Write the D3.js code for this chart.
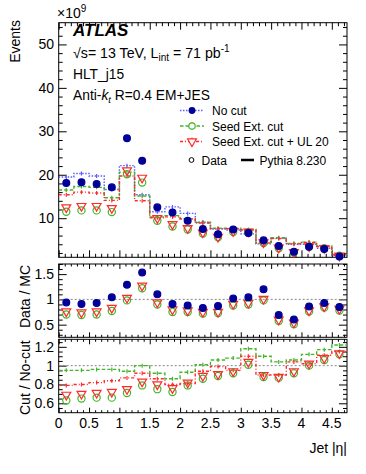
<!DOCTYPE html>
<html><head><meta charset="utf-8">
<script src="https://cdn.jsdelivr.net/npm/d3@7"></script>
<style>
body{margin:0;background:#fff}
svg{display:block}
text{font-family:"Liberation Sans",Arial,Helvetica,sans-serif;fill:#000}
</style>
</head><body>
<svg id="c" width="366" height="474"></svg>
<script>
// ---------- data ----------
const binEdges = [0,0.25,0.5,0.75,1,1.25,1.5,1.75,2,2.25,2.5,2.75,3,3.25,3.5,3.75,4,4.25,4.5,4.75];
// top panel (x10^9 events)
const mcNoCut   = [19.5,20.3,19.7,16.6,22.1,15.4,11.5,12.6,11.1,9.1,7.5,7.3,6.4,4.1,5.4,4.0,4.0,3.1,1.4];
const mcSeed    = [16.5,17.3,17.1,14.7,20.6,15.1,10.3,10.6,9.9,9.0,7.7,7.7,7.4,4.4,5.5,4.2,4.5,3.6,1.7];
const mcUL      = [15.4,16.0,15.8,14.1,19.7,14.0,10.1,10.3,9.8,8.9,7.6,7.6,7.3,4.3,5.3,4.1,4.4,3.5,1.65];
const dataNoCut = [18.1,18.3,17.9,17.1,28.4,23.2,12.5,11.3,9.4,7.5,6.3,7.4,6.6,4.9,3.6,2.3,3.4,2.9,1.2];
const dataSeed  = [11.5,11.8,11.8,11.4,20.1,18.2,9.4,8.1,7.4,6.5,5.6,6.8,6.7,4.3,3.1,2.1,3.4,3.1,1.35];
const dataUL    = [12.5,12.8,12.8,12.3,21.0,19.3,10.0,8.6,7.7,6.7,5.7,7.0,6.9,4.4,3.2,2.2,3.5,3.1,1.37];
// Data / MC
const rNoCut = [0.94,0.91,0.93,1.04,1.29,1.53,1.10,0.91,0.88,0.83,0.87,1.02,1.04,1.20,0.69,0.60,0.86,0.93,0.85];
const rSeed  = [0.70,0.69,0.70,0.77,0.98,1.22,0.90,0.75,0.75,0.72,0.73,0.88,0.90,0.98,0.57,0.51,0.76,0.84,0.78];
const rUL    = [0.76,0.74,0.76,0.83,1.03,1.27,0.94,0.80,0.78,0.75,0.75,0.91,0.93,1.01,0.60,0.54,0.78,0.86,0.81];
// Cut / No-cut
const cutMcSeed   = [0.95,0.95,0.96,0.96,0.94,1.00,0.92,0.86,0.93,1.01,1.06,1.08,1.18,1.10,1.04,1.06,1.12,1.17,1.22];
const cutMcUL     = [0.79,0.80,0.82,0.84,0.87,0.92,0.86,0.80,0.81,0.94,0.99,0.95,1.10,0.90,0.90,1.04,1.02,1.11,1.15];
const cutDataSeed = [0.63,0.65,0.66,0.66,0.71,0.79,0.75,0.72,0.79,0.86,0.89,0.92,1.01,0.88,0.87,0.92,1.00,1.06,1.12];
const cutDataUL   = [0.69,0.70,0.71,0.72,0.75,0.83,0.80,0.76,0.82,0.89,0.91,0.94,1.04,0.90,0.88,0.94,1.02,1.08,1.13];
// ticks
const xTickLabels = ["0","0.5","1","1.5","2","2.5","3","3.5","4","4.5"];
const yTopTicks = [10,20,30,40,50];
const yR1Ticks = [0.5,1,1.5];
const yR2Ticks = [0.6,0.8,1,1.2];
const legendLabels = ["No cut","Seed Ext. cut","Seed Ext. cut + UL 20"];

// ---------- style ----------
const C = {blueP:"#000099", blueL:"#5b5bff", green:"#44b52a", red:"#ff2a2a"};
const svg = d3.select("#c");
const X0 = 58.7, X1 = 347;
const x = d3.scaleLinear([0,4.75],[X0,X1]);
const P = {
  top:{y0:22.7,y1:257.3}, r1:{y0:264,y1:337.3}, r2:{y0:339.3,y1:412.7}
};
const yTop = d3.scaleLinear([1,55],[P.top.y1,P.top.y0]);
const yR1 = d3.scaleLinear([0.25,1.7],[P.r1.y1,P.r1.y0]);
const yR2 = d3.scaleLinear([0.5,1.28],[P.r2.y1,P.r2.y0]);
const centers = binEdges.slice(0,-1).map((e,i)=>(e+binEdges[i+1])/2);

function frame(p){
  svg.append("rect").attr("x",X0).attr("y",p.y0).attr("width",X1-X0).attr("height",p.y1-p.y0)
    .attr("fill","none").attr("stroke","#000").attr("stroke-width",1);
}
function ticksAxis(gen, vals, len, tr){
  const g = svg.append("g").attr("transform",tr).call(gen.tickValues(vals).tickSizeInner(len).tickSizeOuter(0).tickFormat(""));
  g.select(".domain").remove();
  g.selectAll("line").attr("stroke","#000").attr("stroke-width",1);
}
const xMajor = d3.range(0,4.751,0.5);
const xMinor = d3.range(0,4.751,0.1).filter(v=>Math.abs(v/0.5-Math.round(v/0.5))>1e-6);
function xTicks(p, maj, mn){
  ticksAxis(d3.axisBottom(x), xMajor, -maj, `translate(0,${p.y1})`);
  ticksAxis(d3.axisBottom(x), xMinor, -mn, `translate(0,${p.y1})`);
  ticksAxis(d3.axisTop(x), xMajor, -maj, `translate(0,${p.y0})`);
  ticksAxis(d3.axisTop(x), xMinor, -mn, `translate(0,${p.y0})`);
}
function yTicks(sc, maj, mn, majLen, mnLen){
  ticksAxis(d3.axisLeft(sc), maj, -majLen, `translate(${X0},0)`);
  ticksAxis(d3.axisLeft(sc), mn, -mnLen, `translate(${X0},0)`);
  ticksAxis(d3.axisRight(sc), maj, -majLen, `translate(${X1},0)`);
  ticksAxis(d3.axisRight(sc), mn, -mnLen, `translate(${X1},0)`);
}
function yLabels(sc, vals){
  svg.append("g").selectAll("text").data(vals).join("text")
    .attr("x",54).attr("y",d=>sc(d)+5).attr("text-anchor","end").attr("font-size",14).text(d=>d);
}
function hist(sc, vals, color, dash, clipId){
  const pts = vals.map((v,i)=>[binEdges[i],v]); pts.push([binEdges[vals.length], vals[vals.length-1]]);
  const line = d3.line().x(d=>x(d[0])).y(d=>sc(d[1])).curve(d3.curveStepAfter);
  svg.append("path").attr("d",line(pts)).attr("fill","none").attr("stroke",color)
    .attr("stroke-width",1.4).attr("stroke-dasharray",dash).attr("clip-path",`url(#${clipId})`);
  svg.append("g").attr("clip-path",`url(#${clipId})`).selectAll("line").data(vals).join("line")
    .attr("x1",(d,i)=>x(centers[i])).attr("x2",(d,i)=>x(centers[i]))
    .attr("y1",d=>sc(d)-2).attr("y2",d=>sc(d)+2).attr("stroke",color).attr("stroke-width",1.2);
}
function pointsCircle(sc, vals, fill, stroke, r){
  svg.append("g").selectAll("circle").data(vals).join("circle")
    .attr("cx",(d,i)=>x(centers[i])).attr("cy",d=>sc(d)).attr("r",r)
    .attr("fill",fill).attr("stroke",stroke).attr("stroke-width",1.2);
}
const triSym = d3.symbol(d3.symbolTriangle, 34);
function pointsTri(sc, vals){
  svg.append("g").selectAll("path").data(vals).join("path")
    .attr("d",triSym()).attr("transform",(d,i)=>`translate(${x(centers[i])},${sc(d)}) rotate(180)`)
    .attr("fill","none").attr("stroke",C.red).attr("stroke-width",1.2);
}
const defs = svg.append("defs");
[["cTop",P.top],["cR1",P.r1],["cR2",P.r2]].forEach(([id,p])=>{
  defs.append("clipPath").attr("id",id).append("rect").attr("x",X0).attr("y",p.y0).attr("width",X1-X0).attr("height",p.y1-p.y0);
});

// ---------- top panel ----------
frame(P.top);
xTicks(P.top, 7, 3.5);
yTicks(yTop, yTopTicks, d3.range(2,55,2).filter(v=>v%10), 8, 4);
yLabels(yTop, yTopTicks);
hist(yTop, mcNoCut, C.blueL, "1.5,1.5", "cTop");
hist(yTop, mcSeed, C.green, "3.5,2", "cTop");
hist(yTop, mcUL, C.red, "3,2,1,2", "cTop");
pointsCircle(yTop, dataSeed, "none", C.green, 3.6);
pointsTri(yTop, dataUL);
pointsCircle(yTop, dataNoCut, C.blueP, C.blueP, 3.4);

const ex = svg.append("text").attr("x",57).attr("y",18).attr("font-size",14);
ex.append("tspan").text("\u00d710");
ex.append("tspan").attr("dy",-6).attr("font-size",10).text("9");
svg.append("text").attr("transform","translate(20,20) rotate(-90)").attr("text-anchor","end").attr("font-size",14).text("Events");
svg.append("text").attr("x",73).attr("y",36).attr("font-size",17).attr("font-weight","bold").attr("font-style","italic").text("ATLAS");
const t1 = svg.append("text").attr("x",73).attr("y",58).attr("font-size",14.2);
t1.append("tspan").text("\u221As= 13 TeV, L");
t1.append("tspan").attr("dy",3).attr("font-size",10).text("int");
t1.append("tspan").attr("dy",-3).text(" = 71 pb");
t1.append("tspan").attr("dy",-6).attr("font-size",10).text("-1");
svg.append("text").attr("x",73).attr("y",78.5).attr("font-size",13.8).text("HLT_j15");
const t3 = svg.append("text").attr("x",73).attr("y",100).attr("font-size",13.8);
t3.append("tspan").text("Anti-");
t3.append("tspan").attr("font-style","italic").text("k");
t3.append("tspan").attr("dy",3).attr("font-size",9.5).attr("font-style","italic").text("t");
t3.append("tspan").attr("dy",-3).text(" R=0.4 EM+JES");

// legend
const legY = [110.5,126,141.5];
const legCol = [C.blueL, C.green, C.red];
const legDash = ["1.5,1.5","3.5,2","3,2,1,2"];
legendLabels.forEach((lab,i)=>{
  svg.append("line").attr("x1",180).attr("x2",204).attr("y1",legY[i]).attr("y2",legY[i])
    .attr("stroke",legCol[i]).attr("stroke-width",1.4).attr("stroke-dasharray",legDash[i]);
  if(i===0) svg.append("circle").attr("cx",192).attr("cy",legY[i]).attr("r",3.4).attr("fill",C.blueP);
  if(i===1){ svg.append("line").attr("x1",192).attr("x2",192).attr("y1",legY[i]-4).attr("y2",legY[i]+4).attr("stroke",C.green);
    svg.append("circle").attr("cx",192).attr("cy",legY[i]).attr("r",3.2).attr("fill","#fff").attr("stroke",C.green).attr("stroke-width",1.2);}
  if(i===2){ svg.append("line").attr("x1",192).attr("x2",192).attr("y1",legY[i]-4).attr("y2",legY[i]+4).attr("stroke",C.red);
    svg.append("path").attr("d",triSym()).attr("transform",`translate(192,${legY[i]}) rotate(180)`).attr("fill","#fff").attr("stroke",C.red).attr("stroke-width",1.2);}
  svg.append("text").attr("x",212).attr("y",legY[i]+4.5).attr("font-size",12).text(lab);
});
svg.append("circle").attr("cx",191.5).attr("cy",160).attr("r",2.4).attr("fill","none").attr("stroke","#000").attr("stroke-width",1);
svg.append("text").attr("x",201.5).attr("y",164.5).attr("font-size",12).text("Data");
svg.append("line").attr("x1",241).attr("x2",254).attr("y1",160).attr("y2",160).attr("stroke","#000").attr("stroke-width",2.5);
svg.append("text").attr("x",259.5).attr("y",164.5).attr("font-size",12).text("Pythia 8.230");

// ---------- Data / MC ----------
frame(P.r1);
xTicks(P.r1, 5, 2.5);
yTicks(yR1, yR1Ticks, d3.range(0.3,1.71,0.1).filter(v=>Math.abs(v*2-Math.round(v*2))>1e-6), 8, 4);
yLabels(yR1, yR1Ticks);
svg.append("line").attr("x1",X0).attr("x2",X1).attr("y1",yR1(1)).attr("y2",yR1(1)).attr("stroke","#888").attr("stroke-dasharray","2,2");
pointsCircle(yR1, rSeed, "none", C.green, 3.6);
pointsTri(yR1, rUL);
pointsCircle(yR1, rNoCut, C.blueP, C.blueP, 3.4);
svg.append("text").attr("transform",`translate(30,${P.r1.y0+1}) rotate(-90)`).attr("text-anchor","end").attr("font-size",14).text("Data / MC");

// ---------- Cut / No-cut ----------
frame(P.r2);
xTicks(P.r2, 5, 2.5);
yTicks(yR2, yR2Ticks, d3.range(0.55,1.28,0.05).filter(v=>Math.abs(v*5-Math.round(v*5))>1e-6), 8, 4);
yLabels(yR2, yR2Ticks);
svg.append("line").attr("x1",X0).attr("x2",X1).attr("y1",yR2(1)).attr("y2",yR2(1)).attr("stroke","#888").attr("stroke-dasharray","2,2");
hist(yR2, cutMcSeed, C.green, "3.5,2", "cR2");
hist(yR2, cutMcUL, C.red, "3,2,1,2", "cR2");
pointsCircle(yR2, cutDataSeed, "none", C.green, 3.6);
pointsTri(yR2, cutDataUL);
svg.append("text").attr("transform",`translate(30,${P.r2.y0+1}) rotate(-90)`).attr("text-anchor","end").attr("font-size",14).text("Cut / No-cut");

svg.append("g").selectAll("text").data(xTickLabels).join("text")
  .attr("x",(d,i)=>x(xMajor[i])).attr("y",428).attr("text-anchor","middle").attr("font-size",14).text(d=>d);
svg.append("text").attr("x",X1).attr("y",453).attr("text-anchor","end").attr("font-size",14).text("Jet |\u03b7|");
</script>
</body></html>
